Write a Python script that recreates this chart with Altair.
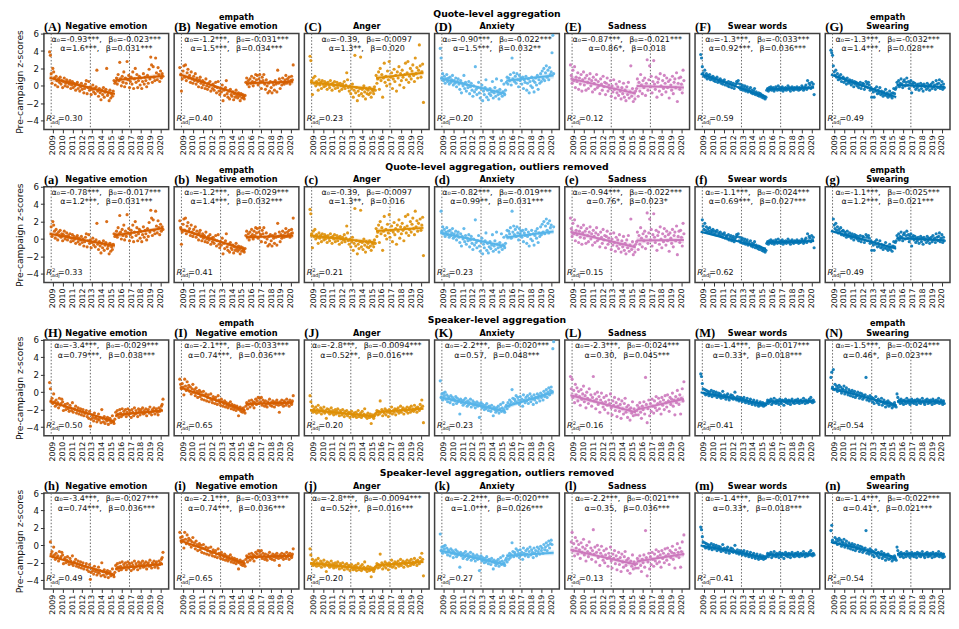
import altair as alt
import pandas as pd

# ---------------- data (monthly, Sep 2008 .. Apr 2020) ----------------
PRE_A = [3.9, 3.5, 1.4, 0.3, 2.0, 1.6, 0.9, 0.1, 1.1, 0.6, -0.1, 0.8,
         0.4, 1.0, 0.2, 0.6, -0.2, 0.5, 0.9, 0.0, 0.3, 0.7, -0.1, 0.4,
         0.2, 0.6, -0.3, 0.1, 0.5, -0.2, 0.3, 0.0, -0.5, 0.2, 0.4, -0.3,
         0.1, -0.6, -0.1, 0.3, -0.4, 0.0, -0.8, -0.3, 0.2, 0.6, -0.9, -0.2,
         0.5, -0.5, -0.1, -1.0, -0.4, 0.1, -0.7, -0.3, -0.9, -0.1, 1.8, -0.6,
         -1.2, -0.3, -0.8, -1.6, -0.5, -1.0, -0.2, -1.3, -0.7, -0.4, 2.0, -1.1,
         -0.8, -1.7, -0.5, -1.4, -0.9, -1.2, -0.6, 0.6, 0.3]
POST_A = [0.5, 0.9, 0.2, 1.3, 0.6, 2.7, 0.8, 0.0, 1.1, 0.4, 1.6, -0.1,
          0.9, 0.3, 2.8, 0.7, 1.2, -0.2, 0.5, 1.0, 0.2, 1.6, -0.3, 0.8,
          2.0, 0.4, 1.3, -0.2, 0.6, 1.1, 0.1, 0.9, -0.3, 0.5, 1.4, 0.2,
          1.0, 0.6, -0.1, 1.2, 0.3, 1.9, 0.8, 3.3, 2.4, 0.4, 2.2, 1.0,
          0.6, 3.2, 1.5, 0.7, 2.1, 1.3, 0.5, 1.7, 0.9, 1.4, 1.1]

PRE_B = [2.1, 1.3, -0.6, 0.8, 1.7, 2.3, 1.0, 2.4, 0.6, 1.5, 1.9, 0.9,
         1.2, 0.4, 1.6, 0.8, 0.3, 1.1, 0.6, 1.4, 0.2, 0.9, 0.5, -0.1,
         0.7, 1.0, 0.3, -0.2, 0.6, 0.1, 0.4, -0.3, 0.8, 0.0, -0.4, 0.3,
         -0.1, 0.5, -0.6, 0.1, -0.3, 0.2, -0.5, -0.1, 0.4, -0.8, -0.2, 0.5,
         -0.6, -1.0, -0.3, -0.7, 0.1, -1.7, -0.5, -1.1, -0.2, 0.6, -0.9, -1.3,
         -0.6, -1.5, -0.4, -1.0, -1.2, -0.7, -1.6, -0.9, -1.3, -0.5, -1.1, -1.4,
         -0.8, -1.2, -1.7, -0.9, -1.4, -1.0, -1.3, -1.5, -1.1]
POST_B = [0.4, 0.9, 0.2, 0.6, -0.1, 0.8, 0.3, 1.1, 0.5, 0.0, 0.9, 0.4,
          1.3, 0.7, 1.2, 0.1, 0.8, 1.3, 0.5, -0.3, 1.0, 0.6, 1.3, 0.2,
          -0.4, 0.7, 0.0, -0.8, 0.3, -0.6, 0.5, -0.2, -0.8, 0.4, 0.1, -0.5,
          0.6, 0.2, -0.7, 1.8, 0.3, 0.8, -0.3, 0.5, 0.1, 0.9, 0.4, 0.2,
          0.7, 1.2, 0.3, 0.8, 0.5, 1.0, 0.2, 0.6, 1.1, 0.7, 2.4]

PRE_C = [3.4, 2.9, 0.6, -1.0, 0.9, 0.3, 1.1, 0.0, 0.5, 0.2, -0.5, 0.7,
         0.1, 0.4, -0.3, 0.6, 0.2, -0.1, 0.5, 0.0, 0.3, -0.4, 0.4, 0.1,
         -0.2, 0.6, 0.2, -0.5, 0.3, 0.0, 0.5, -0.3, 0.1, 0.4, -0.2, 0.2,
         -0.6, 0.3, 0.0, -0.4, 0.2, -0.1, 0.5, -0.3, 0.1, 1.5, 0.7, -0.2,
         -0.6, 0.0, -0.9, -0.3, 0.2, -1.3, -0.5, 3.5, -0.8, -0.2, -1.7, -0.6,
         -1.1, -0.3, 3.3, -0.9, -0.4, -1.2, 0.0, -0.7, -1.5, -0.3, -0.9, -0.5,
         -1.0, -0.2, -0.8, -1.3, -0.4, -0.6, -0.9, -0.1, -0.5]
POST_C = [1.2, 0.3, 0.8, 1.6, -0.4, 2.0, 0.6, 1.3, -1.3, 0.9, 2.6, 0.4,
          1.1, 0.0, 1.7, 0.7, 2.8, 0.2, 1.0, 1.5, -0.3, 0.8, 1.9, 0.5,
          1.2, -0.6, 1.6, 0.9, 2.2, 0.1, 1.4, 0.6, 1.8, 1.0, -0.2, 1.3,
          2.6, 0.7, 1.5, 2.8, 0.4, 1.1, 2.0, 0.8, 1.7, 2.4, 1.2, 0.5,
          3.2, 1.4, 2.1, 0.9, 1.8, 4.7, 2.3, 1.0, 1.6, 2.5, -1.9]

PRE_D = [4.3, 3.2, 0.9, 1.4, 0.6, 1.1, 0.3, 0.8, 1.3, 0.5, 0.9, 0.2,
         1.0, 0.4, 0.7, 1.2, 0.1, 0.6, 0.3, 0.9, -0.1, 0.5, 0.8, 0.2,
         -0.4, 0.6, -0.8, 0.3, 0.0, 1.2, -0.3, 0.4, -0.6, 0.1, -0.2, 0.5,
         -0.9, -0.1, 0.3, -0.5, -1.2, 0.0, -0.7, 2.2, -0.4, -1.0, -0.2, 0.4,
         -0.8, -1.4, -0.3, 0.1, -1.7, -0.6, -1.0, -0.2, 0.7, -1.3, -0.5, -1.6,
         -0.9, -0.3, -1.1, -0.7, 0.5, -1.4, -0.8, -0.2, -1.2, 0.8, -0.6, -1.0,
         -1.5, -0.4, -0.9, 0.6, -1.2, -0.7, 0.2, -1.0, -0.5]
POST_D = [0.4, 1.0, 0.2, 0.9, 0.6, 1.3, 0.1, 3.2, 0.8, 1.5, 0.5, 1.1,
          0.3, 1.4, 0.7, -0.1, 1.2, 0.6, 0.9, 0.2, 1.0, -0.3, 0.7, 0.4,
          1.1, -0.5, 0.3, 0.8, -0.8, 0.5, 0.0, 1.0, -0.2, 0.6, -0.7, 0.4,
          0.9, 0.1, 1.2, -0.4, 0.7, 0.3, 1.4, 0.5, 1.7, 0.8, 2.0, 0.6,
          1.5, 2.3, 1.0, 1.8, 0.7, 2.1, 1.3, 1.6, 3.8, 5.8, 1.4]

PRE_E = [2.4, 1.2, 0.3, 1.8, 0.6, 2.2, -0.2, 1.0, 0.5, 1.5, -0.4, 0.9,
         0.2, 1.3, -0.6, 0.7, 1.6, 0.1, 0.9, -0.5, 1.2, 0.4, -0.3, 0.8,
         1.4, 0.0, 0.6, -0.7, 1.0, 0.3, -0.4, 0.7, 1.3, -0.2, 0.5, 0.0,
         -0.9, 0.8, 0.2, -0.5, 1.1, -0.1, 0.4, -1.0, 0.3, 0.9, -0.6, 0.1,
         -0.3, 0.6, -1.2, 0.0, -0.7, 0.7, -0.4, -1.4, 0.2, -0.8, -0.1, -1.1,
         0.5, -0.6, -1.5, -0.2, -0.9, 0.3, -1.3, -0.5, -1.7, -0.1, -1.0, 0.4,
         -1.4, -0.7, 2.3, -1.2, -0.3, -1.8, -0.8, -1.5, -0.6]
POST_E = [-0.3, 0.8, -1.2, 0.4, -0.6, 1.3, 0.1, -0.9, 0.6, -0.2, 0.9, -1.1,
          0.3, 3.0, -0.5, 0.7, 2.3, -0.1, 1.1, -0.8, 0.5, 2.9, 0.2, -0.4,
          1.0, -1.3, 0.4, 0.8, -0.6, 1.4, 0.0, -1.0, 0.6, -0.3, 1.2, 0.3,
          -0.7, 0.9, -0.2, 0.5, -1.4, 0.7, 0.1, -0.5, 1.1, -0.9, 0.4, 0.8,
          -0.2, 1.5, -1.8, 0.3, 0.9, -0.4, 1.0, 0.2, -0.8, 1.8, 0.6]

PRE_F = [3.6, 3.2, 2.2, 1.5, 1.1, 1.8, 1.0, 1.4, 0.8, 1.2, 0.9, 1.3,
         0.7, 1.0, 0.8, 1.1, 0.6, 0.9, 0.5, 0.8, 1.0, 0.4, 0.7, 0.5,
         0.8, 0.3, 0.6, 0.2, 0.5, 0.7, 0.1, 0.4, 0.3, 0.0, 0.5, -0.1,
         0.2, 0.4, -0.2, 0.1, 0.3, -0.3, 0.0, 0.2, 0.5, 0.3, 0.6, -0.2,
         0.2, -0.4, -0.1, 0.1, -0.5, -0.2, 0.0, -0.6, -0.3, -0.1, -0.7, -0.4,
         -0.6, -0.2, -0.8, -0.5, -0.9, -0.6, -0.3, -1.0, -0.7, -0.9, -1.1, -0.8,
         -1.2, -0.9, -1.0, -1.3, -1.1, -1.4, -1.2, -1.5, -1.3]
POST_F = [-0.5, -0.3, -0.6, -0.2, -0.4, -0.1, -0.5, -0.3, -0.2, -0.6, -0.4, -0.1,
          -0.3, -0.5, 0.0, -0.4, -0.2, -0.5, -0.3, -0.1, -0.6, -0.3, -0.4, -0.2,
          -0.5, -0.3, 0.0, -0.4, -0.2, -0.6, -0.3, -0.1, -0.4, -0.5, -0.2, -0.3,
          -0.4, -0.1, -0.3, -0.5, -0.2, -0.4, -0.3, 0.0, -0.2, -0.5, -0.3, -0.1,
          0.1, -0.4, 0.6, -0.2, 0.3, 0.1, -0.3, 0.4, -0.1, 0.2, -1.0]

PRE_G = [4.1, 3.8, 3.5, 2.3, 1.6, 1.2, 1.8, 1.0, 1.4, 0.7, 1.1, 0.8,
         1.3, 0.5, 0.9, 1.0, 0.4, 0.8, 0.6, 0.2, 0.9, 0.5, 0.3, 0.7,
         0.4, 0.1, 0.6, 0.3, -0.1, 0.5, 0.2, 0.4, 0.0, 0.3, -0.2, 0.1,
         0.4, -0.3, 0.0, 0.3, 0.2, -0.4, -0.1, 0.5, 0.2, -0.2, 0.4, 0.1,
         -0.5, -0.2, -1.3, -0.4, -0.7, -1.3, -0.3, -0.6, -0.1, -0.9, -0.5, -0.8,
         -0.2, -1.0, -0.6, -0.9, -1.2, -0.7, -1.0, -0.4, -1.1, -0.8, -1.3, -1.0,
         -0.6, -1.2, -0.9, -1.4, -0.8, -0.3, -0.9, -0.4, -0.2]
POST_G = [0.4, 0.1, 0.6, -0.1, 0.3, 0.8, 0.2, -0.2, 0.5, 0.7, 0.0, 0.4,
          0.9, 0.1, 0.5, -0.3, 0.3, 0.6, -0.8, 0.2, 0.4, -0.1, 0.3, -0.4,
          0.1, -0.2, 0.2, -0.5, 0.0, 0.3, -0.3, 0.1, -0.6, 0.2, -0.1, 0.0,
          -0.4, 0.3, -0.2, 0.1, -0.5, 0.0, 0.2, -0.3, 0.4, -0.1, 0.1, -0.4,
          0.6, 0.2, -0.2, 0.3, 0.7, -0.3, 0.1, 0.5, -0.4, 0.2, -0.2]

PRE_H = [1.1, 0.4, -1.0, -0.7, -1.3, -0.2, -1.1, -1.6, -0.9, -1.4, -1.2, -1.8,
         -0.7, -1.5, -1.3, -0.8, -1.1, -2.1, -1.6, -1.4, -2.0, -1.7, -1.3, -1.9,
         -2.2, -1.5, -1.8, -2.1, -1.2, -2.3, -1.9, -2.0, -1.6, -2.4, -2.1, -1.8,
         -2.5, -2.2, -1.9, -2.6, -2.3, -2.0, -2.7, -2.4, -2.4, -2.1, -2.8, -2.5,
         -3.0, -2.2, -3.9, -3.1, -2.6, -2.9, -3.3, -2.4, -3.0, -2.8, -3.4, -3.1,
         -2.5, -3.2, -2.9, -3.5, -2.0, -3.0, -3.4, -2.8, -3.6, -3.1, -3.3, -2.9,
         -3.7, -3.2, -3.0, -3.5, -3.3, -2.7, -3.4, -3.6, -3.1]
POST_H = [-2.3, -2.7, -2.1, -2.5, -2.9, -2.0, -2.4, -2.8, -1.9, -2.6, -2.2, -2.5,
          -2.0, -2.8, -2.3, -1.9, -2.6, -2.1, -2.4, -2.9, -2.0, -2.3, -2.7, -1.8,
          -2.5, -2.1, -2.4, -2.8, -1.9, -2.2, -2.6, -2.0, -2.3, -1.8, -2.5, -2.1,
          -2.4, -1.9, -2.7, -2.2, -2.0, -2.4, -1.7, -2.3, -2.6, -2.0, -2.2, -1.8,
          -2.5, -2.1, -1.9, -2.3, -2.6, -1.8, -2.2, -2.0, -1.6, -1.4, -0.8]

PRE_I = [1.5, 0.9, 0.4, 1.0, 0.6, -0.3, 1.5, 0.7, 0.2, 1.2, 0.5, 0.8,
         0.1, 0.6, -0.2, 0.4, 0.9, 0.0, 0.3, -0.4, 0.5, 0.1, -0.6, -0.1,
         0.2, -0.5, 0.0, -0.8, -0.3, 0.1, -0.9, -0.4, -0.2, -1.0, -0.6, -0.3,
         -1.1, -0.7, -0.2, -0.9, -1.2, -0.5, -0.8, -1.3, -0.6, -1.0, -1.4, -0.4,
         -0.9, -1.2, -1.5, -0.8, -1.1, -1.6, -1.3, -1.0, -1.7, -1.2, -1.5, -1.8,
         -1.3, -1.6, -1.1, -1.9, -1.4, -1.7, -2.0, -1.5, -1.8, -2.1, -1.6, -1.9,
         -2.7, -2.0, -1.7, -2.2, -1.9, -2.3, -1.8, -2.1, -2.4]
POST_I = [-1.6, -1.2, -1.9, -1.4, -1.0, -1.7, -1.3, -0.9, -1.5, -1.1, -1.8, -1.2,
          -0.8, -1.4, -1.0, -0.6, -1.3, -0.7, -1.1, -0.6, -1.5, -0.9, -1.2, -1.6,
          -1.0, -1.4, -1.7, -1.1, -1.3, -0.8, -1.5, -1.2, -1.6, -1.0, -1.3, -1.7,
          -1.1, -1.4, -0.9, -1.2, -1.5, -2.3, -1.1, -1.4, -0.9, -1.3, -1.6, -1.0,
          -1.2, -1.5, -0.8, -1.3, -1.1, -1.6, -0.9, -1.2, -1.4, -1.0, -0.4]

PRE_J = [-0.4, -1.1, -2.1, -1.6, -2.3, -1.9, -2.2, -1.7, -2.4, -2.0, -1.5, -2.3,
         -2.1, -1.8, -2.5, -2.0, -2.2, -1.7, -2.4, -2.1, -3.0, -1.9, -2.3, -2.0,
         -2.5, -2.2, -1.8, -2.4, -2.1, -2.6, -2.3, -2.0, -2.5, -2.2, -1.9, -2.4,
         -2.7, -2.1, -2.3, -2.6, -2.0, -2.4, -2.8, -2.2, -2.5, -2.1, -2.7, -2.4,
         -2.3, -2.9, -2.5, -2.2, -2.6, -2.8, -2.4, -2.7, -2.3, -2.9, -2.5, -2.1,
         -2.8, -2.6, -2.4, -2.9, -2.2, -2.7, -2.5, -1.9, -2.8, -2.6, -3.0, -2.4,
         -2.7, -2.9, -2.5, -3.6, -2.8, -2.6, -3.0, -2.7, -2.5]
POST_J = [-2.4, -2.1, -2.6, -2.2, -2.5, -1.0, -2.3, -2.0, -2.7, -2.2, -2.4, -1.9,
          -2.6, -2.1, -2.3, -2.8, -2.0, -2.4, -2.2, -1.7, -2.5, -2.1, -2.3, -1.9,
          -2.6, -2.0, -2.2, -1.8, -2.4, -2.1, -1.6, -2.3, -2.0, -1.8, -2.5, -2.1,
          -1.9, -2.2, -1.7, -2.4, -2.0, -1.8, -2.3, -1.6, -2.1, -1.9, -2.2, -1.5,
          -2.0, -1.8, -2.3, -1.7, -1.9, -2.1, -1.4, -1.8, -0.9, -1.6, -3.5]

PRE_K = [1.3, -0.6, -0.2, -0.9, -0.1, -0.4, 0.0, -0.8, -0.3, -1.1, -0.5, -0.7,
         -1.2, -0.4, -0.9, -0.6, -1.4, -0.8, -1.0, -0.5, -1.3, -0.7, -1.1, -0.9,
         -2.5, -0.8, -1.2, -1.0, -1.5, -0.9, -1.3, -0.7, -1.1, -1.6, -1.0, -1.4,
         -1.2, -0.8, -1.7, -1.3, -1.0, -1.5, -1.2, -1.8, -1.4, -1.1, -1.6, -1.3,
         -2.9, -1.5, -1.2, -1.8, -1.4, -1.7, -2.0, -1.5, -1.9, -1.3, -1.7, -2.1,
         -1.6, -1.8, -2.2, -1.5, -1.9, -2.7, -1.7, -2.0, -2.3, -1.8, -2.1, -1.6,
         -2.4, -1.9, -1.4, -2.2, -1.8, -1.2, -2.0, -2.3, -1.7]
POST_K = [-1.5, -1.9, -1.2, -1.6, -0.9, -1.4, -1.1, 0.3, -0.7, -1.3, -0.8, -1.0,
          -0.4, -1.2, -0.6, -0.9, -1.4, -0.5, -1.1, -0.8, -1.6, -0.3, -0.9, -1.2,
          -0.6, -1.0, -0.4, -1.3, -0.7, -0.2, -1.1, -0.5, -0.8, -1.4, -0.3, -0.9,
          -0.6, -1.2, -0.2, -0.7, -0.4, -1.0, -0.1, -0.6, -0.3, -0.9, 0.1, -0.5,
          -0.2, 0.3, -0.6, 0.0, 0.5, -0.3, 0.2, 0.6, 0.1, 5.0, 5.8]

PRE_L = [1.8, 0.4, 1.5, -0.6, 0.2, -1.2, 0.9, -0.3, 0.5, -1.0, 0.1, -0.5,
         -1.5, 0.3, -0.8, -0.2, 0.7, -1.1, -0.4, -1.8, 0.0, -0.7, -1.3, 0.4,
         -0.9, -0.3, -1.6, -0.6, 1.8, -1.0, -0.2, -1.9, -0.8, 0.0, -1.4, -0.5,
         -2.3, -0.9, -0.1, -1.2, -1.7, -0.6, -2.0, -1.1, -0.4, -1.5, -2.4, -0.9,
         -1.3, -0.2, -1.8, -2.6, -1.0, -1.5, -0.6, -2.1, -1.2, -2.8, -1.6, -0.8,
         -2.2, -1.4, -3.0, -1.0, -1.9, -2.5, -1.3, -0.7, -2.3, -1.7, -2.9, -1.5,
         -2.0, -3.2, -1.8, -2.4, -1.1, -2.7, -1.9, -2.2, -2.6]
POST_L = [-2.1, -1.5, -2.6, -1.8, -1.2, -2.3, -3.0, -1.6, -2.0, -1.1, -2.5, 1.7,
          -1.4, -3.5, -1.9, -0.9, -2.7, -1.3, -2.2, -0.8, -1.6, -2.4, -1.0, -1.8,
          -0.5, -2.1, -1.3, -0.7, -1.9, -1.1, -2.5, -0.6, -1.5, -0.9, -2.0, -0.4,
          -1.2, -1.7, -0.3, -1.0, -2.2, -0.6, -1.4, -0.8, -0.1, -1.6, -0.9, -2.6,
          -0.5, -1.2, 0.2, -0.8, -1.4, -0.3, -2.5, -0.7, 0.4, -1.0, 1.2]

PRE_M = [2.1, 1.8, 1.0, 0.4, -0.1, 0.3, -0.3, 0.2, -0.2, 0.1, -0.4, 0.0,
         -0.3, 0.2, -0.5, -0.1, 0.1, -0.4, -0.2, 0.0, -0.6, -0.3, -0.1, -0.5,
         -0.2, -0.7, -0.4, 0.1, -0.6, -0.3, -0.5, -0.8, -0.4, -0.2, -0.6, -0.9,
         -0.5, -0.3, -0.7, -0.4, -0.8, -0.6, 0.0, -0.7, -0.9, -0.5, -0.8, -1.0,
         -0.6, -0.9, -0.7, -1.1, -0.8, -0.6, -1.0, -1.2, -0.9, -0.7, -1.1, -1.3,
         -1.0, -0.8, -1.2, -1.4, -1.1, -0.9, -1.3, -1.5, -1.2, -1.0, -1.4, -1.6,
         -1.3, -1.1, -1.5, -1.4, -1.2, -1.6, -1.3, -1.5, -1.4]
POST_M = [-1.2, -0.9, -1.3, -1.0, -1.1, -0.8, -1.4, -1.0, -1.2, -0.7, -1.1, -1.3,
          -0.9, -1.2, -1.0, -1.4, -0.8, -1.1, -1.3, -0.9, -1.0, -1.5, -1.1, -0.8,
          -1.2, -1.0, -1.3, -0.9, -1.1, -1.4, -1.0, -0.8, -1.2, -1.1, -1.3, -0.9,
          -1.0, -1.2, -0.8, -1.1, -1.3, -1.0, -0.9, -1.2, -1.1, -0.7, -1.0, -1.3,
          -0.9, -1.1, -1.2, -1.0, -0.8, -1.1, -0.6, -1.0, -1.2, -0.9, -1.1]

PRE_N = [1.7, 2.3, 0.6, 2.6, 0.3, 0.9, 0.4, 0.7, 0.1, 0.5, 0.8, 0.2,
         0.6, -0.1, 0.4, 0.3, 0.7, -0.2, 0.2, 0.5, 0.0, -0.3, 0.3, 0.1,
         -0.4, 0.0, 0.2, -0.5, -0.1, 0.1, -0.6, -0.2, -0.4, 0.0, -0.3, -0.7,
         -0.1, -0.5, -0.2, -0.8, -0.4, -0.6, -0.3, 1.7, -0.9, -0.5, -0.7, -1.0,
         -0.4, -0.8, -0.6, -1.1, -0.7, -1.3, -0.9, -0.5, -1.0, -1.2, -0.8, -1.4,
         -1.0, -1.1, -0.7, -1.5, -1.2, -0.9, -1.3, -1.7, -1.1, -1.4, -1.0, -1.6,
         -1.2, -1.5, -1.3, -1.8, -1.4, -1.6, -1.2, -1.5, -1.7]
POST_N = [-0.2, -0.6, -1.1, -0.9, -1.3, -0.8, -1.2, -1.0, -1.4, -0.9, -1.1, -1.3,
          -0.7, -1.0, -1.2, -0.9, -1.4, -1.1, -0.8, -1.2, -1.0, -1.3, -0.9, -1.1,
          -1.4, -0.8, -1.0, -1.2, -0.9, -1.3, -1.1, -0.7, -1.0, -1.2, -1.4, -0.9,
          -1.1, -0.8, -1.3, -1.0, -1.2, -0.9, -1.1, -1.4, -0.8, -1.0, -1.3, -1.1,
          -0.9, -1.2, -1.0, -0.7, -1.3, -1.1, -0.9, -1.2, -1.4, -1.0, -1.3]

QUOTE_PRE = [PRE_A, PRE_B, PRE_C, PRE_D, PRE_E, PRE_F, PRE_G]
QUOTE_POST = [POST_A, POST_B, POST_C, POST_D, POST_E, POST_F, POST_G]
SPEAKER_PRE = [PRE_H, PRE_I, PRE_J, PRE_K, PRE_L, PRE_M, PRE_N]
SPEAKER_POST = [POST_H, POST_I, POST_J, POST_K, POST_L, POST_M, POST_N]

# month indices dropped in the "outliers removed" rows
REMOVED_ROW2 = [[0, 1], [], [134], [0, 137, 138], [], [0, 1], [0, 1, 2]]
REMOVED_ROW4 = [[0], [], [], [138, 139], [0], [], [3]]

# fitted segments: pre start, pre end, post start, post end
FIT_ROW1 = [[0.93, -0.93, 0.67, 1.13], [1.31, -1.2, 0.3, 0.47], [0.4, -0.39, 0.91, 1.51],
            [0.88, -0.9, 0.6, 1.18], [0.83, -0.87, -0.01, -0.18], [1.37, -1.3, -0.38, -0.2],
            [1.29, -1.3, 0.1, -0.13]]
FIT_ROW2 = [[0.6, -0.78, 0.42, 1.23], [1.15, -1.2, 0.2, 0.37], [0.4, -0.39, 0.91, 1.28],
            [0.72, -0.82, 0.17, 0.87], [0.84, -0.94, -0.18, -0.12], [0.84, -1.1, -0.41, -0.24],
            [0.93, -1.1, 0.1, -0.13]]
FIT_ROW3 = [[-1.05, -3.4, -2.61, -2.09], [0.57, -2.1, -1.36, -1.19], [-2.04, -2.8, -2.28, -1.9],
            [-0.58, -2.2, -1.63, 0.0], [-0.36, -2.3, -2.0, -0.78], [-0.02, -1.4, -1.07, -1.01],
            [0.44, -1.5, -1.04, -1.1]]
FIT_ROW4 = [[-1.21, -3.4, -2.66, -2.14], [0.57, -2.1, -1.36, -1.19], [-2.04, -2.8, -2.28, -1.9],
            [-0.58, -2.2, -1.2, -0.85], [-0.5, -2.2, -1.85, -0.98], [-0.02, -1.4, -1.07, -1.01],
            [0.38, -1.4, -0.99, -1.05]]

# confidence band half widths: at segment ends, at segment middle
BAND_ROW1 = [[0.35, 0.15], [0.3, 0.13], [0.3, 0.13], [0.35, 0.15], [0.4, 0.18], [0.15, 0.07], [0.2, 0.09]]
BAND_ROW2 = [[0.3, 0.13], [0.28, 0.12], [0.3, 0.13], [0.3, 0.13], [0.38, 0.17], [0.13, 0.06], [0.18, 0.08]]
BAND_ROW3 = [[0.2, 0.09], [0.2, 0.09], [0.15, 0.07], [0.3, 0.13], [0.4, 0.18], [0.12, 0.05], [0.15, 0.07]]
BAND_ROW4 = [[0.2, 0.09], [0.2, 0.09], [0.15, 0.07], [0.28, 0.12], [0.38, 0.17], [0.12, 0.05], [0.15, 0.07]]

SEP = ",\u2002 "
COEF_ROW1 = [("α₀=-0.93***", "β₀=-0.023***", "α=1.6***", "β=0.031***"),
             ("α₀=-1.2***", "β₀=-0.031***", "α=1.5***", "β=0.034***"),
             ("α₀=-0.39", "β₀=-0.0097", "α=1.3**", "β=0.020"),
             ("α₀=-0.90***", "β₀=-0.022***", "α=1.5***", "β=0.032**"),
             ("α₀=-0.87***", "β₀=-0.021***", "α=0.86*", "β=0.018"),
             ("α₀=-1.3***", "β₀=-0.033***", "α=0.92***", "β=0.036***"),
             ("α₀=-1.3***", "β₀=-0.032***", "α=1.4***", "β=0.028***")]
COEF_ROW2 = [("α₀=-0.78***", "β₀=-0.017***", "α=1.2***", "β=0.031***"),
             ("α₀=-1.2***", "β₀=-0.029***", "α=1.4***", "β=0.032***"),
             ("α₀=-0.39", "β₀=-0.0097", "α=1.3**", "β=0.016"),
             ("α₀=-0.82***", "β₀=-0.019***", "α=0.99**", "β=0.031***"),
             ("α₀=-0.94***", "β₀=-0.022***", "α=0.76*", "β=0.023*"),
             ("α₀=-1.1***", "β₀=-0.024***", "α=0.69***", "β=0.027***"),
             ("α₀=-1.1***", "β₀=-0.025***", "α=1.2***", "β=0.021***")]
COEF_ROW3 = [("α₀=-3.4***", "β₀=-0.029***", "α=0.79***", "β=0.038***"),
             ("α₀=-2.1***", "β₀=-0.033***", "α=0.74***", "β=0.036***"),
             ("α₀=-2.8***", "β₀=-0.0094***", "α=0.52**", "β=0.016***"),
             ("α₀=-2.2***", "β₀=-0.020***", "α=0.57", "β=0.048***"),
             ("α₀=-2.3***", "β₀=-0.024***", "α=0.30", "β=0.045***"),
             ("α₀=-1.4***", "β₀=-0.017***", "α=0.33*", "β=0.018***"),
             ("α₀=-1.5***", "β₀=-0.024***", "α=0.46*", "β=0.023***")]
COEF_ROW4 = [("α₀=-3.4***", "β₀=-0.027***", "α=0.74***", "β=0.036***"),
             ("α₀=-2.1***", "β₀=-0.033***", "α=0.74***", "β=0.036***"),
             ("α₀=-2.8***", "β₀=-0.0094***", "α=0.52**", "β=0.016***"),
             ("α₀=-2.2***", "β₀=-0.020***", "α=1.0***", "β=0.026***"),
             ("α₀=-2.2***", "β₀=-0.021***", "α=0.35", "β=0.036***"),
             ("α₀=-1.4***", "β₀=-0.017***", "α=0.33*", "β=0.018***"),
             ("α₀=-1.4***", "β₀=-0.022***", "α=0.41*", "β=0.021***")]

R2_ROW1 = ["0.30", "0.40", "0.23", "0.20", "0.12", "0.59", "0.49"]
R2_ROW2 = ["0.33", "0.41", "0.21", "0.23", "0.15", "0.62", "0.49"]
R2_ROW3 = ["0.50", "0.65", "0.20", "0.23", "0.16", "0.41", "0.54"]
R2_ROW4 = ["0.49", "0.65", "0.20", "0.27", "0.13", "0.41", "0.54"]

TITLES = [["Negative emotion"], ["empath", "Negative emotion"], ["Anger"], ["Anxiety"],
          ["Sadness"], ["Swear words"], ["empath", "Swearing"]]
COLORS = ["#d55e00", "#d55e00", "#de8f05", "#56b4e9", "#cc78bc", "#0173b2", "#0173b2"]
LETTERS = [["(A)", "(B)", "(C)", "(D)", "(E)", "(F)", "(G)"],
           ["(a)", "(b)", "(c)", "(d)", "(e)", "(f)", "(g)"],
           ["(H)", "(I)", "(J)", "(K)", "(L)", "(M)", "(N)"],
           ["(h)", "(i)", "(j)", "(k)", "(l)", "(m)", "(n)"]]
ROW_TITLES = ["Quote-level aggregation", "Quote-level aggregation, outliers removed",
              "Speaker-level aggregation", "Speaker-level aggregation, outliers removed"]
YEARS = list(range(2009, 2021))
ELECTIONS = [2008.833, 2012.833, 2016.833]
FIRST_MONTH = 2008.667   # September 2008

# ---------------- layout (kept inside the page so that it is not scaled) ----------------
W, H = 125, 96
ROW_PITCH = 153.5
COL_SPACING = 5.5
XDOM = [2008.09, 2020.83]
YDOM = [-5, 6]
FONT = "DejaVu Sans"


def month_x(i):
    return FIRST_MONTH + i / 12.0


def text_layer(s, px, py, **kw):
    return alt.Chart(alt.Data(values=[{"t": s}])).mark_text(**kw).encode(
        text="t:N", x=alt.value(px), y=alt.value(py))


def panel(pre, post, removed, fit, band, coef, r2, letter, title, color, row_title, first_col):
    ys = list(pre) + list(post)
    n_pre = len(pre)
    pts = pd.DataFrame({"x": [month_x(i) for i in range(len(ys))], "y": ys})
    pts = pts.drop(index=[r for r in removed if r < len(ys)])

    xs = alt.Scale(domain=XDOM, nice=False, zero=False)
    ysc = alt.Scale(domain=YDOM, nice=False, zero=False)
    xax = alt.Axis(values=YEARS, format="d", labelAngle=270, title=None, grid=False,
                   labelFontSize=7.8, labelPadding=2, tickSize=3.5, labelFlush=False,
                   labelOverlap=False)
    if first_col:
        yax = alt.Axis(values=[-4, -2, 0, 2, 4, 6], title="Pre-campaign z-scores", grid=False,
                       labelFontSize=8.6, tickSize=3.5, labelPadding=2, titlePadding=1,
                       titleFontSize=9.2, titleFontWeight="normal", labelFlush=False)
    else:
        yax = None
    X = alt.X("x:Q", scale=xs, axis=xax)

    def Y(field):
        return alt.Y(field, type="quantitative", scale=ysc, axis=yax)

    # fitted lines
    x0, x1 = month_x(0), month_x(n_pre - 1)
    x2, x3 = month_x(n_pre), month_x(len(ys) - 1)
    line_df = pd.DataFrame({
        "x": [x0, x1, x2, x3],
        "y": [fit[0], fit[1], fit[2], fit[3]],
        "seg": ["pre", "pre", "post", "post"],
    })
    bx, blo, bhi, bseg = [], [], [], []
    for seg, (xa, xb, ya, yb) in (("pre", (x0, x1, fit[0], fit[1])), ("post", (x2, x3, fit[2], fit[3]))):
        for xv, yv, hw in ((xa, ya, band[0]), ((xa + xb) / 2, (ya + yb) / 2, band[1]), (xb, yb, band[0])):
            bx.append(xv)
            blo.append(yv - hw)
            bhi.append(yv + hw)
            bseg.append(seg)
    band_df = pd.DataFrame({"x": bx, "lo": blo, "hi": bhi, "seg": bseg})

    rules = alt.Chart(pd.DataFrame({"x": ELECTIONS})).mark_rule(
        color="#6a6a6a", strokeDash=[1.5, 1.8], strokeWidth=1).encode(x=X)
    area = alt.Chart(band_df).mark_area(color=color, opacity=0.3).encode(
        x=X, y=Y("lo"), y2="hi:Q", detail="seg:N")
    dots = alt.Chart(pts).mark_circle(color=color, size=10, opacity=0.9).encode(x=X, y=Y("y"))
    lines = alt.Chart(line_df).mark_line(color=color, strokeWidth=2).encode(
        x=X, y=Y("y"), detail="seg:N")

    layers = [rules, area, dots, lines]

    # panel title
    layers.append(text_layer(letter, 0, -7, font="Liberation Serif", fontSize=12.5,
                             fontWeight="bold", align="left", baseline="middle", color="#000"))
    if len(title) == 2:
        layers.append(text_layer(title[0], W / 2, -15.6, font=FONT, fontSize=8.2, fontWeight="bold",
                                 align="center", baseline="middle", color="#000"))
    layers.append(text_layer(title[-1], W / 2, -6.4, font=FONT, fontSize=8.2, fontWeight="bold",
                             align="center", baseline="middle", color="#000"))
    if row_title:
        layers.append(text_layer(row_title, W / 2, -20.0, font=FONT, fontSize=9.3, fontWeight="bold",
                                 align="center", baseline="middle", color="#000"))
    # coefficients
    layers.append(text_layer(coef[0] + SEP + coef[1], W / 2, 6.2, font=FONT, fontSize=8,
                             align="center", baseline="middle", color="#111"))
    layers.append(text_layer(coef[2] + SEP + coef[3], W / 2, 15.6, font=FONT, fontSize=8,
                             align="center", baseline="middle", color="#111"))
    # adjusted R squared
    ry = H - 10
    layers.append(text_layer("R", 2.3, ry, font=FONT, fontSize=8, fontStyle="italic",
                             align="left", baseline="middle", color="#111"))
    layers.append(text_layer("2", 8.0, ry - 2.9, font=FONT, fontSize=5.2, align="left",
                             baseline="middle", color="#111"))
    layers.append(text_layer("adj", 7.8, ry + 2.7, font=FONT, fontSize=5.2, align="left",
                             baseline="middle", color="#111"))
    layers.append(text_layer("=" + r2, 14.2, ry, font=FONT, fontSize=8, align="left",
                             baseline="middle", color="#111"))

    return alt.layer(*layers).properties(width=W, height=H)


def make_row(pres, posts, removed, fits, bands, coefs, r2s, letters, row_title):
    panels = []
    for k in range(7):
        panels.append(panel(pres[k], posts[k], removed[k], fits[k], bands[k], coefs[k], r2s[k],
                            letters[k], TITLES[k], COLORS[k], row_title if k == 3 else None, k == 0))
    return alt.hconcat(*panels, spacing=COL_SPACING, bounds="flush")


NONE_REMOVED = [[] for _ in range(7)]
rows = [
    make_row(QUOTE_PRE, QUOTE_POST, NONE_REMOVED, FIT_ROW1, BAND_ROW1, COEF_ROW1, R2_ROW1, LETTERS[0], ROW_TITLES[0]),
    make_row(QUOTE_PRE, QUOTE_POST, REMOVED_ROW2, FIT_ROW2, BAND_ROW2, COEF_ROW2, R2_ROW2, LETTERS[1], ROW_TITLES[1]),
    make_row(SPEAKER_PRE, SPEAKER_POST, NONE_REMOVED, FIT_ROW3, BAND_ROW3, COEF_ROW3, R2_ROW3, LETTERS[2], ROW_TITLES[2]),
    make_row(SPEAKER_PRE, SPEAKER_POST, REMOVED_ROW4, FIT_ROW4, BAND_ROW4, COEF_ROW4, R2_ROW4, LETTERS[3], ROW_TITLES[3]),
]

# with flush bounds the nested rows report no height, so the spacing is the full row pitch
chart = alt.vconcat(*rows, spacing=ROW_PITCH, bounds="flush").properties(
    padding={"left": 7, "top": 0, "right": 0, "bottom": 0}
).configure(font=FONT).configure_view(
    stroke="#404040", strokeWidth=1.5
).configure_axis(
    domain=False, grid=False, tickColor="#333333", labelColor="#111111",
    titleColor="#111111", labelFont=FONT, titleFont=FONT
)

chart.save("out.html", embed_options={"renderer": "svg", "actions": False})
